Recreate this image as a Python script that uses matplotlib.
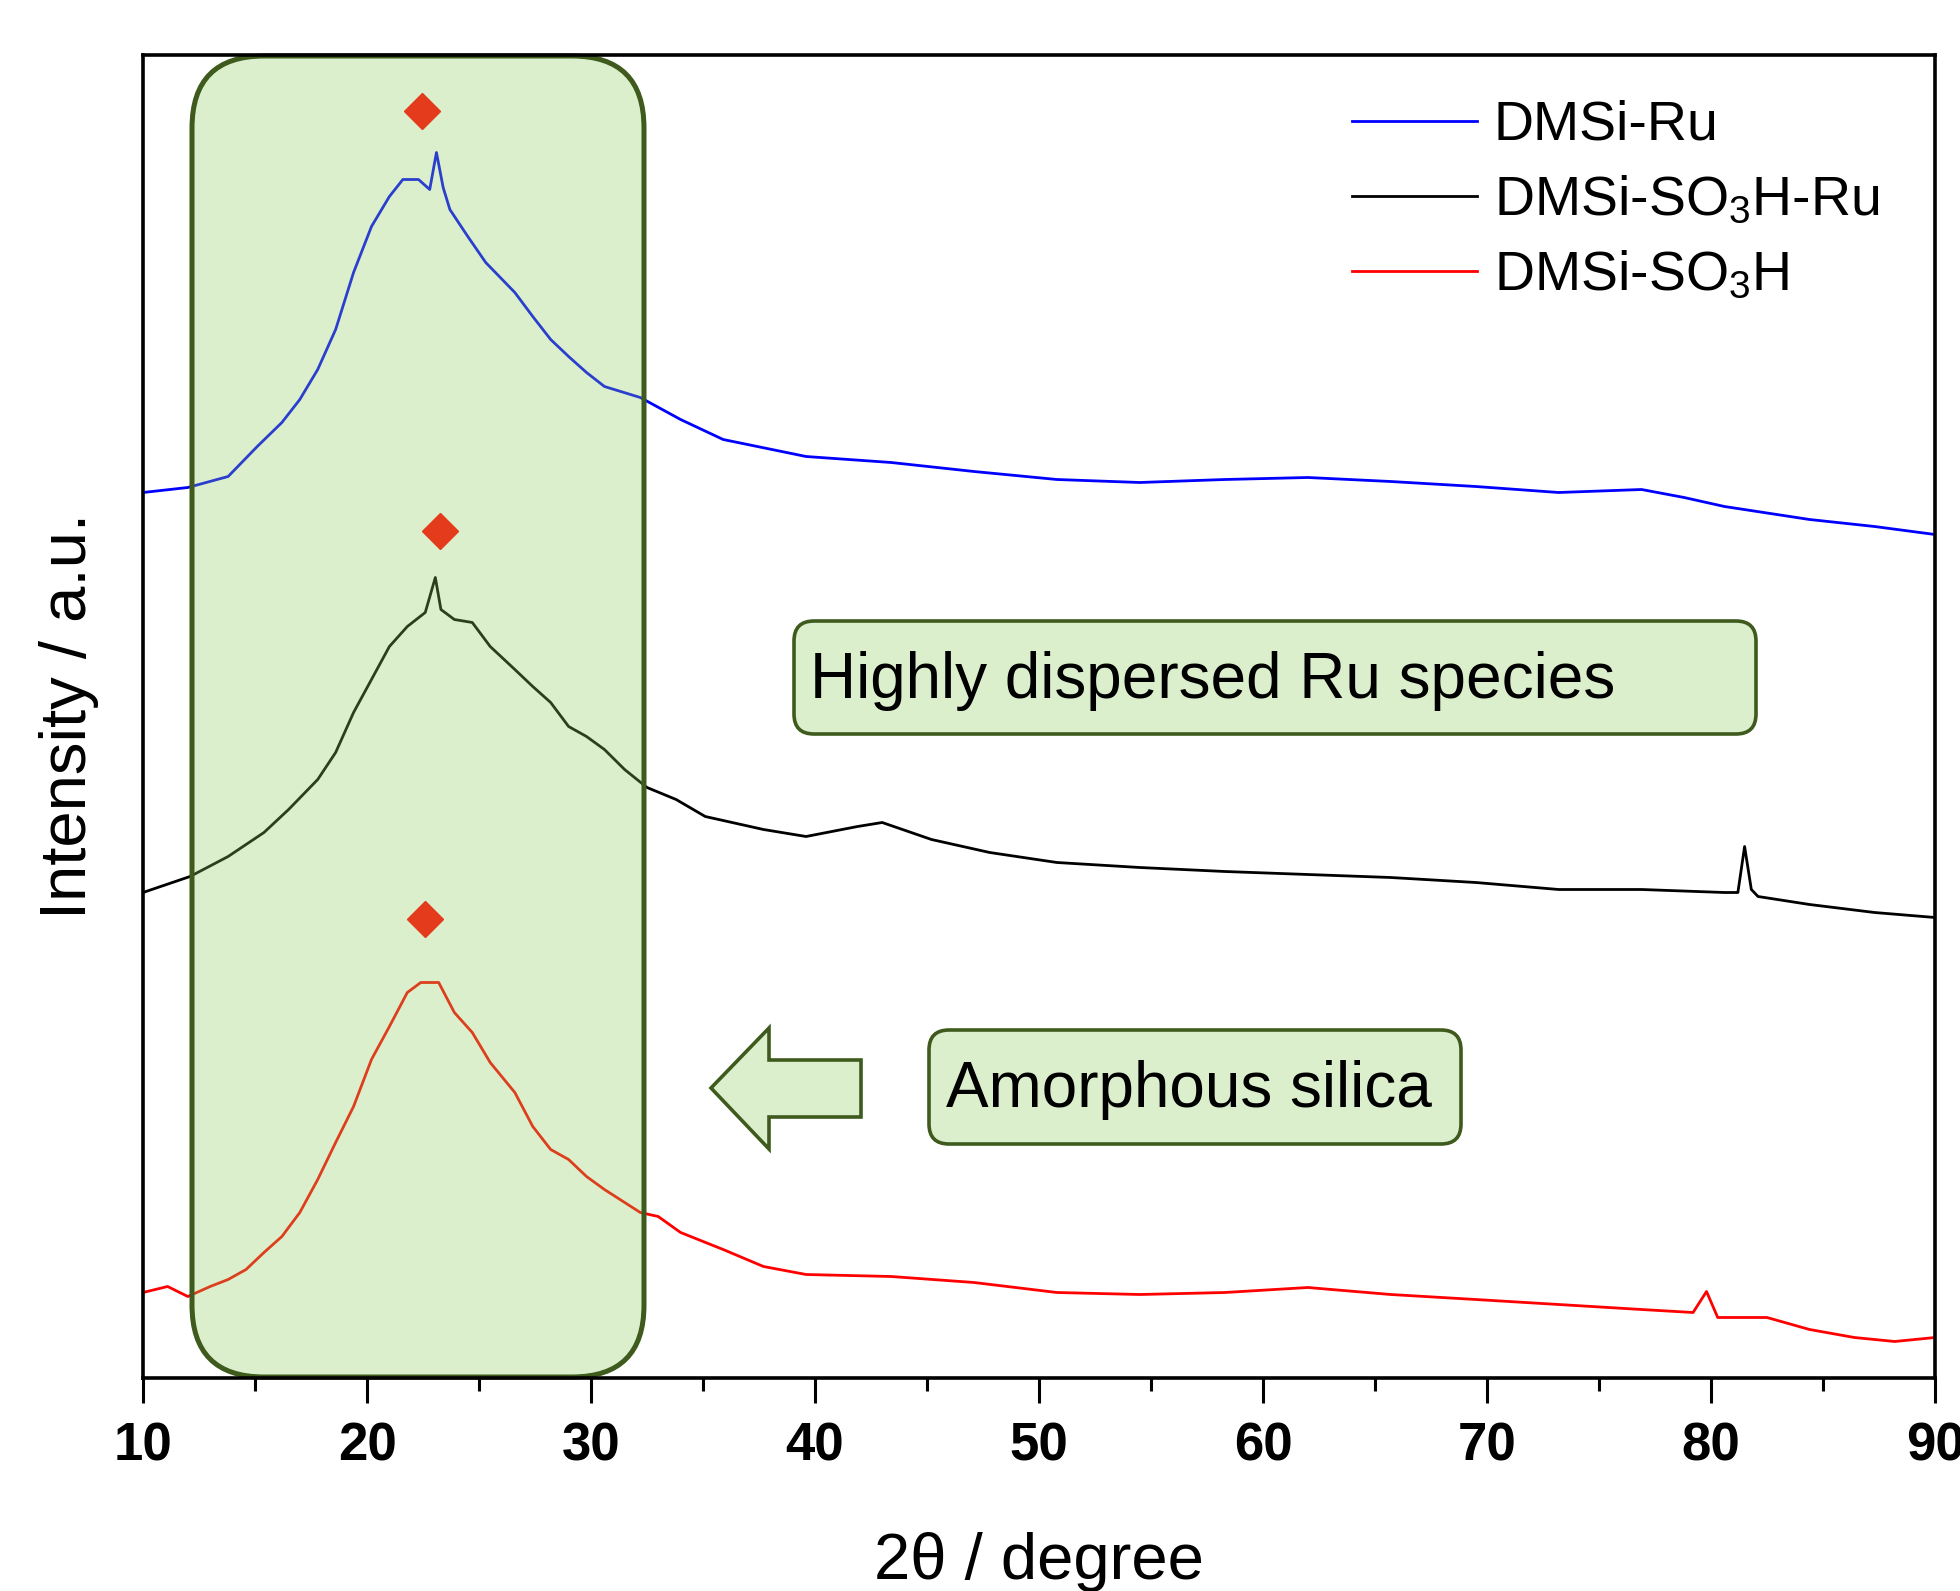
import matplotlib
matplotlib.use('Agg')
import matplotlib.pyplot as plt
from matplotlib.patches import FancyBboxPatch, Polygon

plt.rcParams['font.family'] = ['Liberation Sans', 'DejaVu Sans']
plt.rcParams['mathtext.default'] = 'regular'

# ---------------- data ----------------
two_theta_ru = [10, 12.0, 13.8, 15.1, 16.2, 17.0, 17.8, 18.6, 19.4, 20.2, 21.0, 21.6, 22.3, 22.8,
                23.1, 23.4, 23.7, 24.5, 25.3, 26.6, 27.4, 28.2, 29.0, 29.8, 30.6, 32.2, 34.0,
                35.9, 39.6, 43.4, 47.1, 50.8, 54.5, 58.3, 62.0, 65.7, 69.5, 73.2, 76.9, 78.8,
                80.6, 84.4, 87.3, 90]
int_ru = [885, 890, 901, 931, 955, 978, 1008, 1048, 1105, 1151, 1181, 1198, 1198, 1188,
          1225, 1190, 1168, 1141, 1115, 1085, 1061, 1038, 1021, 1005, 991, 980, 958,
          938, 921, 915, 906, 898, 895, 898, 900, 896, 891, 885, 888, 880,
          871, 858, 851, 843]

two_theta_so3h_ru = [10, 12.1, 13.8, 15.4, 16.5, 17.8, 18.6, 19.4, 20.2, 21.0, 21.8, 22.6, 23.05,
                     23.3, 23.9, 24.7, 25.5, 26.6, 27.4, 28.2, 29.0, 29.8, 30.6, 31.5, 32.5, 33.8,
                     35.1, 37.7, 39.6, 41.9, 43.0, 45.2, 47.8, 50.8, 54.5, 58.3, 62.0, 65.7, 69.5,
                     73.2, 76.9, 80.6, 81.2, 81.5, 81.8, 82.1, 84.4, 87.3, 90]
int_so3h_ru = [485, 501, 521, 545, 568, 598, 625, 665, 698, 731, 751, 765, 800,
               768, 758, 755, 731, 708, 691, 675, 651, 641, 628, 608, 590, 578,
               561, 548, 541, 551, 555, 538, 525, 515, 510, 506, 503, 500, 495,
               488, 488, 485, 485, 531, 488, 481, 473, 465, 460]

two_theta_so3h = [10, 11.1, 12.0, 13.0, 13.8, 14.6, 15.4, 16.2, 17.0, 17.8, 18.6, 19.4, 20.2,
                  21.0, 21.8, 22.4, 23.2, 23.9, 24.7, 25.5, 26.6, 27.4, 28.2, 29.0, 29.8, 30.6,
                  32.2, 33.0, 34.0, 35.9, 37.7, 39.6, 43.4, 47.1, 50.8, 54.5, 58.3, 62.0, 65.7,
                  69.5, 73.2, 76.9, 79.2, 79.8, 80.3, 82.5, 84.4, 86.4, 88.2, 90]
int_so3h = [85, 91, 81, 91, 98, 108, 125, 141, 165, 198, 235, 271, 318,
            351, 385, 395, 395, 365, 345, 315, 285, 251, 228, 218, 201, 188,
            165, 161, 145, 128, 111, 103, 101, 95, 85, 83, 85, 90, 83,
            78, 73, 68, 65, 86, 60, 60, 48, 40, 36, 40]

peak_pos = [22.47, 23.24, 22.61]
peak_int = [1267, 847, 459]

series_labels = ['DMSi-Ru', r'DMSi-SO$_3$H-Ru', r'DMSi-SO$_3$H']
series_colors = ['#0000ff', '#000000', '#ff0000']
x_ticks = [10, 20, 30, 40, 50, 60, 70, 80, 90]

# ---------------- figure ----------------
W, H = 1960, 1591
fig = plt.figure(figsize=(W / 100, H / 100), dpi=100)
fig.patch.set_facecolor('white')
ax = fig.add_axes([143 / W, 1 - 1377.5 / H, (1935 - 143) / W, (1377.5 - 55) / H])
ax.set_facecolor('none')


def px(x, y):
    """figure pixel (from top-left) -> inches for dpi_scale_trans"""
    return x / 100.0, (H - y) / 100.0


lines = []
for xs, ys, c, lab in [(two_theta_ru, int_ru, series_colors[0], series_labels[0]),
                       (two_theta_so3h_ru, int_so3h_ru, series_colors[1], series_labels[1]),
                       (two_theta_so3h, int_so3h, series_colors[2], series_labels[2])]:
    ln, = ax.plot(xs, ys, color=c, lw=2.0, label=lab, zorder=2)
    lines.append(ln)

ax.plot(peak_pos, peak_int, linestyle='none', marker='D', markersize=18,
        color='#e33b1b', zorder=6)

green_face = (142 / 255, 206 / 255, 94 / 255, 0.31)
green_edge = '#3e5a1d'

# large rounded highlight box
x0, y0 = px(192, 1377)
x1, y1 = px(644, 56)
big = FancyBboxPatch((x0, y0), x1 - x0, y1 - y0,
                     boxstyle='round,pad=0,rounding_size=0.72',
                     transform=fig.dpi_scale_trans, facecolor=green_face,
                     edgecolor=green_edge, lw=3.6, zorder=4, clip_on=False)
ax.add_patch(big)

# annotation boxes
for (bx0, by0, bx1, by1) in [(794, 621, 1756, 734), (929, 1030, 1461, 1144)]:
    a, b = px(bx0, by1)
    c, d = px(bx1, by0)
    p = FancyBboxPatch((a, b), c - a, d - b,
                       boxstyle='round,pad=0,rounding_size=0.2',
                       transform=fig.dpi_scale_trans, facecolor=green_face,
                       edgecolor=green_edge, lw=2.6, zorder=4, clip_on=False)
    ax.add_patch(p)

arrow_pts = [px(711, 1088), px(769, 1028), px(769, 1060), px(861, 1060),
             px(861, 1117), px(769, 1117), px(769, 1149)]
arr = Polygon(arrow_pts, closed=True, transform=fig.dpi_scale_trans,
              facecolor=green_face, edgecolor=green_edge, lw=2.6, zorder=4,
              clip_on=False)
ax.add_patch(arr)

fig.text(810 / W, 1 - 681 / H, 'Highly dispersed Ru species', fontsize=46,
         ha='left', va='center', zorder=7)
fig.text(946 / W, 1 - 1090 / H, 'Amorphous silica', fontsize=46,
         ha='left', va='center', zorder=7)

# axes styling
ax.set_xlim(10, 90)
ax.set_ylim(0, 1322.5)
ax.set_xticks(x_ticks)
ax.set_xticks([15, 25, 35, 45, 55, 65, 75, 85], minor=True)
ax.set_yticks([])
ax.tick_params(axis='x', which='major', direction='out', length=18, width=2.2,
               pad=14, labelsize=38)
ax.tick_params(axis='x', which='minor', direction='out', length=9, width=2.2)
for lab in ax.get_xticklabels():
    lab.set_fontweight('bold')
for s in ax.spines.values():
    s.set_linewidth(2.6)
    s.set_zorder(5)

fig.text(69 / W, 1 - 716 / H, 'Intensity / a.u.', rotation=90, fontsize=47,
         ha='center', va='center')
fig.text(1039 / W, 1 - 1579 / H, '2θ / degree', fontsize=47,
         ha='center', va='baseline')

ax.legend(handles=lines, loc='upper left', bbox_to_anchor=(1352 / W, 1 - 100 / H),
          bbox_transform=fig.transFigure, frameon=False, fontsize=40,
          handlelength=2.25, handletextpad=0.3, borderpad=0, borderaxespad=0,
          labelspacing=0.42)

fig.savefig('out.png', dpi=100)
